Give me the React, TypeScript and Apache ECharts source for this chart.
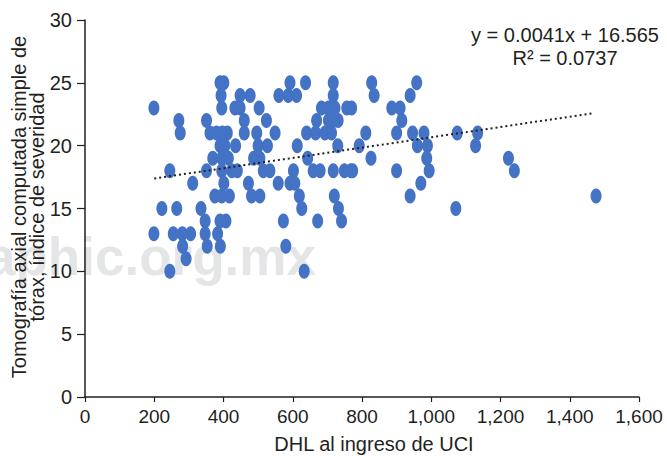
import React, { useEffect, useRef } from "react";
import * as echarts from "echarts";

// CT severity index levels (y) and the DHL values (x) observed at each level
const severityLevels = [25, 24, 23, 22, 21, 20, 19, 18, 17, 16, 15, 14, 13, 12, 11, 10];
const dhlByLevel = [
  [390, 401, 592, 637, 717, 828, 958],
  [393, 448, 477, 560, 587, 611, 717, 835, 939],
  [199, 395, 433, 448, 503, 683, 703, 722, 756, 770, 886, 910],
  [271, 351, 460, 524, 669, 703, 718, 731, 915],
  [275, 361, 380, 397, 411, 460, 496, 549, 640, 666, 693, 712, 811, 900, 946, 979, 1075, 1134],
  [390, 404, 435, 500, 527, 613, 730, 792, 960, 989, 1128],
  [369, 395, 414, 487, 505, 643, 826, 987, 1223],
  [245, 351, 395, 424, 440, 515, 534, 602, 659, 679, 717, 749, 768, 773, 900, 994, 1240],
  [311, 401, 472, 558, 592, 606, 970],
  [375, 395, 417, 481, 505, 619, 720, 939, 1476],
  [222, 265, 335, 626, 732, 1071],
  [347, 390, 407, 573, 672, 741],
  [199, 255, 281, 305, 347, 383],
  [282, 353, 391, 580],
  [292],
  [245, 633],
];

// Regression shown on the chart
const slope = 0.0041;
const intercept = 16.565;
const trendX = [200, 1470];

const xTicks = { min: 0, max: 1600, interval: 200 };
const yTicks = { min: 0, max: 30, interval: 5 };

const equationText = "y = 0.0041x + 16.565";
const r2Text = "R² = 0.0737";
const xTitle = "DHL al ingreso de UCI";
const yTitle = "Tomografía axial computada simple de\ntórax, índice de severidad";
const watermark = "aphic.org.mx";

const FONT = "'Liberation Sans', Arial, Helvetica, sans-serif";
const INK = "#231f20";

export default function App() {
  const ref = useRef<HTMLDivElement>(null);
  useEffect(() => {
    if (!ref.current) return;
    const chart = echarts.init(ref.current, undefined, { renderer: "svg" });
    const points: number[][] = [];
    severityLevels.forEach((lvl, i) => {
      dhlByLevel[i].forEach((x) => points.push([x, lvl]));
    });
    const trend = trendX.map((x) => [x, +(slope * x + intercept).toFixed(3)]);
    const axisCommon = {
      type: "value" as const,
      splitLine: { show: false },
      axisLine: { show: true, onZero: false, lineStyle: { color: INK, width: 1.5 } },
      axisTick: { show: true, lineStyle: { color: INK, width: 1.2 } },
    };
    chart.setOption({
      animation: false,
      backgroundColor: "#ffffff",
      grid: { left: 85, top: 20, width: 554, height: 377, containLabel: false },
      xAxis: {
        ...axisCommon,
        ...xTicks,
        axisTick: { ...axisCommon.axisTick, length: 5 },
        axisLabel: {
          fontSize: 19,
          color: INK,
          fontFamily: FONT,
          margin: 10,
          formatter: (v: number) => v.toLocaleString("en-US"),
        },
      },
      yAxis: {
        ...axisCommon,
        ...yTicks,
        axisTick: { ...axisCommon.axisTick, length: 8 },
        axisLabel: { fontSize: 20, color: INK, fontFamily: FONT, margin: 13 },
      },
      series: [
        {
          type: "scatter",
          data: points,
          symbol: "circle",
          symbolSize: [11, 15],
          itemStyle: { color: "#4472c4", opacity: 1 },
          z: 5,
        },
        {
          type: "line",
          data: trend,
          symbol: "none",
          lineStyle: { type: [2, 3], width: 2, color: INK },
          z: 6,
        },
      ],
      graphic: [
        {
          type: "text",
          z: -1,
          x: -14,
          y: 256,
          style: {
            text: watermark,
            font: `bold 53px ${FONT}`,
            fill: "#e4e5e7",
            textAlign: "left",
            textVerticalAlign: "middle",
          },
        },
        {
          type: "text",
          z: 10,
          x: 565,
          y: 35,
          style: {
            text: equationText,
            font: `20px ${FONT}`,
            fill: INK,
            textAlign: "center",
            textVerticalAlign: "middle",
          },
        },
        {
          type: "text",
          z: 10,
          x: 565,
          y: 58,
          style: {
            text: r2Text,
            font: `20px ${FONT}`,
            fill: INK,
            textAlign: "center",
            textVerticalAlign: "middle",
          },
        },
        {
          type: "text",
          z: 10,
          x: 374,
          y: 444,
          style: {
            text: xTitle,
            font: `20px ${FONT}`,
            fill: INK,
            textAlign: "center",
            textVerticalAlign: "middle",
          },
        },
        {
          type: "text",
          z: 10,
          x: 28,
          y: 207,
          rotation: Math.PI / 2,
          style: {
            text: yTitle,
            font: `20px ${FONT}`,
            lineHeight: 18,
            fill: INK,
            textAlign: "center",
            textVerticalAlign: "middle",
          },
        },
      ],
    });
    return () => chart.dispose();
  }, []);
  return (
    <div
      ref={ref}
      style={{ position: "absolute", left: 0, top: 0, width: 667, height: 456 }}
    />
  );
}
